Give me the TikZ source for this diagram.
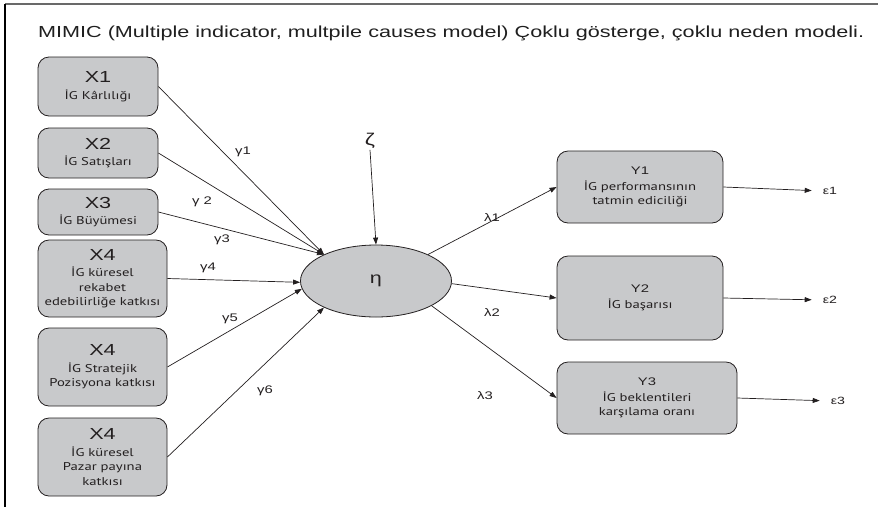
\documentclass[tikz,border=0pt]{standalone}
\usepackage{fontspec}
\setmainfont{Liberation Sans}[FakeStretch=1.35]
\newfontfamily\subfont{PT Sans}[FakeStretch=1.3]
\usetikzlibrary{arrows.meta,shapes.geometric}
\definecolor{boxfill}{RGB}{200,201,203}
\definecolor{inkgray}{RGB}{35,31,32}
\definecolor{framegray}{RGB}{105,105,105}
% variable name on the first line of a box
\newcommand\varlabel[2]{{\rmfamily\fontsize{#1}{#1}\selectfont #2}}

\begin{document}
\begin{tikzpicture}[x=1pt,y=-1pt,
  every node/.style={text=inkgray},
  varbox/.style={draw=inkgray, line width=0.8pt, fill=boxfill,
    rounded corners=11pt, align=center, inner sep=0pt,
    font=\subfont\fontsize{11.3}{14.5}\selectfont},
  latent/.style={ellipse, draw=inkgray, line width=0.8pt, fill=boxfill,
    minimum width=151pt, minimum height=72pt, inner sep=0pt,
    font=\fontsize{16}{16}\selectfont},
  link/.style={draw=inkgray, line width=0.7pt,
    -{Triangle[length=7pt,width=5pt]}},
  coef/.style={inner sep=0pt, font=\fontsize{11}{13}\selectfont}
]
\useasboundingbox (0,0) rectangle (878,507);

% frame
\draw[framegray, line width=2pt] (5,4) -- (878,4);
\draw[black, line width=1.3pt] (5,4) -- (5,507);

% title
\node[anchor=base west, inner sep=0pt, text=black!88,
  font=\fontsize{16}{19}\selectfont] (title) at (38,37)
  {MIMIC (Multiple indicator, multpile causes model) Çoklu gösterge, çoklu neden modeli.};

% causes
\node[varbox, minimum width=120pt, minimum height=59pt] (x1) at (98,86.5)
  {\varlabel{16}{X1}\\[2pt]İG Kârlılığı};
\node[varbox, minimum width=120pt, minimum height=50pt] (x2) at (98,153)
  {\varlabel{16}{X2}\\[2pt]İG Satışları};
\node[varbox, minimum width=120pt, minimum height=46pt] (x3) at (98,212)
  {\varlabel{16}{X3}\\[2pt]İG Büyümesi};
\node[varbox, minimum width=129pt, minimum height=77pt] (x4a) at (102.5,278.5)
  {\varlabel{16}{X4}\\[2pt]İG küresel\\ rekabet\\edebilirliğe katkısı};
\node[varbox, minimum width=129pt, minimum height=78pt] (x4b) at (102.5,367)
  {\varlabel{16}{X4}\\[2pt]İG Stratejik\\Pozisyona katkısı};
\node[varbox, minimum width=129pt, minimum height=78pt] (x4c) at (102.5,457)
  {\varlabel{16}{X4}\\[2pt]İG küresel\\Pazar payına\\katkısı};

% latent variable and disturbance
\node[latent] (eta) at (376,281) {η};
\node[inner sep=1pt, font=\fontsize{17}{17}\selectfont] (zeta) at (370,141) {ζ};

% indicators
\node[varbox, minimum width=166pt, minimum height=72pt] (y1) at (640,187)
  {\varlabel{11}{Y1}\\[1pt]İG performansının\\tatmin ediciliği};
\node[varbox, minimum width=166pt, minimum height=84pt] (y2) at (640,298)
  {\varlabel{11}{Y2}\\[1pt]İG başarısı};
\node[varbox, minimum width=180pt, minimum height=72pt] (y3) at (647,398)
  {\varlabel{11}{Y3}\\[1pt]İG beklentileri\\karşılama oranı};

% error terms
\node[coef, font=\fontsize{10.5}{12}\selectfont] (e1) at (830,191) {ε1};
\node[coef, font=\fontsize{10.5}{12}\selectfont] (e2) at (830,300) {ε2};
\node[coef, font=\fontsize{10.5}{12}\selectfont] (e3) at (838,401) {ε3};

% path coefficients
\node[coef] (g1) at (243,152) {γ1};
\node[coef] (g2) at (202,202) {γ 2};
\node[coef] (g3) at (222,240) {γ3};
\node[coef] (g4) at (208,268) {γ4};
\node[coef] (g5) at (230,319) {γ5};
\node[coef] (g6) at (265,391) {γ6};
\node[coef] (l1) at (492,218) {λ1};
\node[coef] (l2) at (492,313) {λ2};
\node[coef] (l3) at (485,396) {λ3};

% structural paths
\draw[link] (x1.east) -- (eta.153);
\draw[link] (x2.east) -- (eta.153);
\draw[link] (x3.east) -- (eta.153);
\draw[link] (x4a.east) -- (eta.181);
\draw[link] (x4b.east) -- (eta.186);
\draw[link] (x4c.east) -- (eta.207);
\draw[link] (zeta.south) -- (eta.north);

% measurement paths
\draw[link] (eta.27) -- (y1.west);
\draw[link] (eta.-2) -- (y2.west);
\draw[link] (eta.-24) -- (y3.west);
\draw[link, shorten >=11pt] (y1.east) -- (e1.west);
\draw[link, shorten >=11pt] (y2.east) -- (e2.west);
\draw[link, shorten >=11pt] (y3.east) -- (e3.west);
\end{tikzpicture}
\end{document}
